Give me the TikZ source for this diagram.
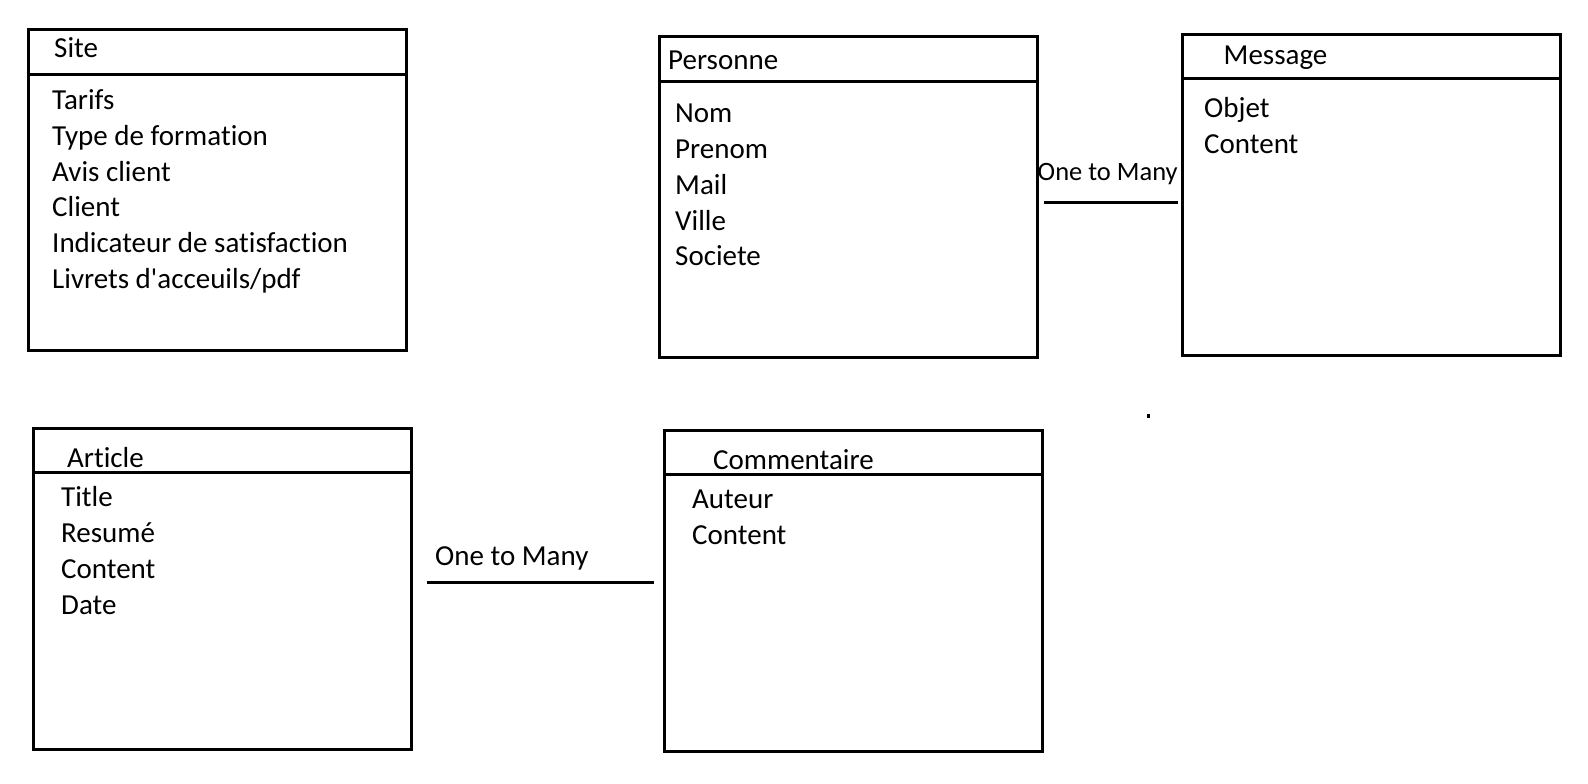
\documentclass[tikz,border=0pt]{standalone}
\usepackage{fontspec}
\setmainfont{Carlito}[Ligatures=NoCommon]
\begin{document}
\begin{tikzpicture}[x=1bp,y=-1bp,
    table/.style={draw,line width=3bp,minimum width=378bp,minimum height=321bp,anchor=north west,inner sep=0pt,outer sep=0pt},
    header/.style={line width=3bp},
    field/.style={anchor=base west,inner sep=0pt,font=\fontsize{29bp}{36bp}\selectfont},
    rel/.style={line width=3bp}]
    \useasboundingbox (0,0) rectangle (1588,784);

    % Site
    \node[table] (site) at (28.5,29.5) {};
    \draw[header] ([yshift=-44.5bp]site.north west) -- ([yshift=-44.5bp]site.north east);
    \node[field] (site-title) at (54,57.5) {Site};
    \foreach \t [count=\i] in {Tarifs,Type de formation,Avis client,Client,Indicateur de satisfaction,Livrets d\textquotesingle acceuils/pdf}
        \node[field] (site-\i) at (52,{109.2+35.9*(\i-1)}) {\t};

    % Personne
    \node[table] (personne) at (659,36.5) {};
    \draw[header] ([yshift=-44.5bp]personne.north west) -- ([yshift=-44.5bp]personne.north east);
    \node[field] (personne-title) at (668,69.2) {Personne};
    \foreach \t [count=\i] in {Nom,Prenom,Mail,Ville,Societe}
        \node[field] (personne-\i) at (675,{122.6+35.8*(\i-1)}) {\t};

    % Message
    \node[table] (message) at (1182,34.4) {};
    \draw[header] ([yshift=-44.5bp]message.north west) -- ([yshift=-44.5bp]message.north east);
    \node[field] (message-title) at (1223.5,65) {Message};
    \foreach \t [count=\i] in {Objet,Content}
        \node[field] (message-\i) at (1204,{117.4+35.8*(\i-1)}) {\t};

    % Article
    \node[table] (article) at (33.4,428.4) {};
    \draw[header] ([yshift=-44.5bp]article.north west) -- ([yshift=-44.5bp]article.north east);
    \node[field] (article-title) at (67,467.8) {Article};
    \foreach \t [count=\i] in {Title,Resumé,Content,Date}
        \node[field] (article-\i) at (61,{506.4+36*(\i-1)}) {\t};

    % Commentaire
    \node[table] (commentaire) at (664.3,430.4) {};
    \draw[header] ([yshift=-44.5bp]commentaire.north west) -- ([yshift=-44.5bp]commentaire.north east);
    \node[field] (commentaire-title) at (713,469.8) {Commentaire};
    \foreach \t [count=\i] in {Auteur,Content}
        \node[field] (commentaire-\i) at (692,{508.4+36*(\i-1)}) {\t};

    % relations
    \coordinate (pm-y) at (0,202.3);
    \draw[rel,shorten <=6.6bp,shorten >=4bp] (personne.east |- pm-y) -- (message.west |- pm-y);
    \node[field,font=\fontsize{26.5bp}{32bp}\selectfont] (pm-label) at (1037.5,180) {One to Many};

    \coordinate (ac-y) at (0,582.3);
    \draw[rel,shorten <=15.3bp,shorten >=10.3bp] (article.east |- ac-y) -- (commentaire.west |- ac-y);
    \node[field] (ac-label) at (435,565.8) {One to Many};

    \fill (1147,413.5) rectangle (1150,417.5);
\end{tikzpicture}
\end{document}
